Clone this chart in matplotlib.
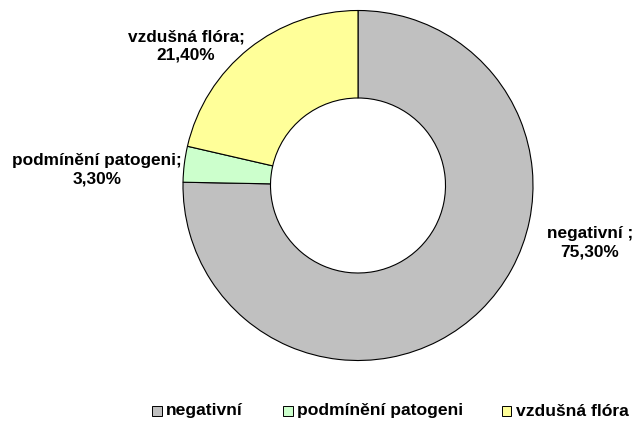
import matplotlib
matplotlib.use("Agg")
import matplotlib.pyplot as plt
from matplotlib.patches import Rectangle

categories = ["negativní", "podmínění patogeni", "vzdušná flóra"]
values = [75.3, 3.3, 21.4]
label_texts = ["negativní ;\n75,30%", "podmínění patogeni;\n3,30%", "vzdušná flóra;\n21,40%"]
colors = ["#C0C0C0", "#CCFFCC", "#FFFF99"]

plt.rcParams['font.family'] = ['Liberation Sans', 'DejaVu Sans']

W, H = 635, 421
fig = plt.figure(figsize=(W/100, H/100), dpi=100)
cx, cy, R = 358, 185.5, 175
ax = fig.add_axes([(cx - R)/W, (H - cy - R)/H, 2*R/W, 2*R/H])
wedges, _ = ax.pie(values, colors=colors, startangle=90, counterclock=False,
                   radius=1.0, wedgeprops=dict(width=0.5, edgecolor="black", linewidth=0.8))
ax.set_xlim(-1, 1)
ax.set_ylim(-1, 1)
ax.set_aspect("equal")
ax.axis("off")

label_pos = [(590, 243), (97, 170), (186, 46)]
for t, (x, y) in zip(label_texts, label_pos):
    fig.text(x/W, 1 - y/H, t, ha="center", va="center", fontsize=12.4, fontweight="bold",
             linespacing=1.32)

# legend (manual, positions in pixels)
marker_x = [152, 283, 502]
ly = 411
ms = 9.5
for name, c, mx in zip(categories, colors, marker_x):
    fig.patches.append(Rectangle((mx/W, (H - ly - ms/2)/H), ms/W, ms/H, transform=fig.transFigure,
                                 facecolor=c, edgecolor="black", linewidth=0.7, figure=fig))
    fig.text((mx + 14)/W, 1 - ly/H, name, ha="left", va="center", fontsize=12.6,
             fontweight="bold")

fig.savefig("out.png", dpi=100)
